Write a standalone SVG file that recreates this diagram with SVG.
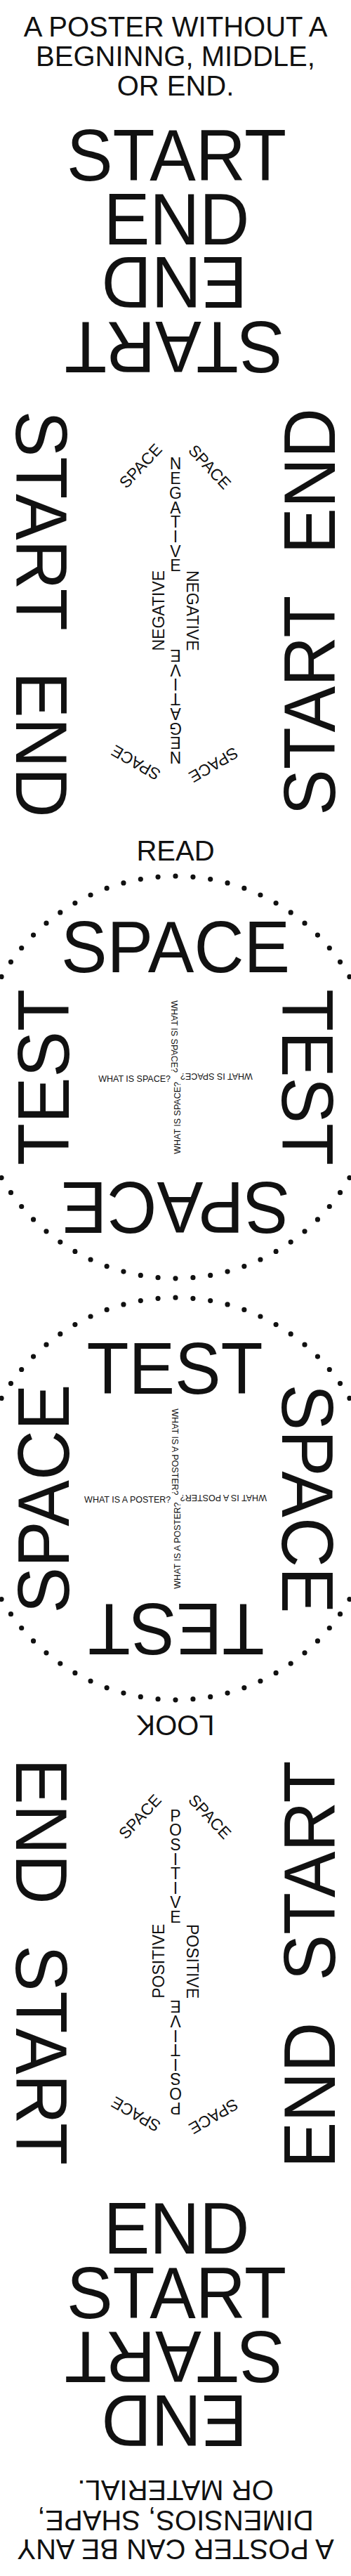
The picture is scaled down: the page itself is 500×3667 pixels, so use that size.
<svg xmlns="http://www.w3.org/2000/svg" width="500" height="3667" viewBox="0 0 500 3667">
<style>
text{font-family:"Liberation Sans",Arial,Helvetica,sans-serif;fill:#111;text-anchor:middle}
.hd{font-size:40px}
.big{font-size:104px}
.md{font-size:23px}
.sm{font-size:12.5px}
.e{text-anchor:end}
.dots{fill:none;stroke:#111;stroke-width:7.2;stroke-linecap:round;stroke-dasharray:0 1}
</style>
<rect width="500" height="3667" fill="#fff"/>
<g id="header">
<text class="hd" x="250" y="51.7">A POSTER WITHOUT A</text>
<text class="hd" x="250" y="93.6">BEGNINNG, MIDDLE,</text>
<text class="hd" x="250" y="136.1">OR END.</text>
</g>
<g id="stack-top" class="big">
<text class="big" transform="translate(251.5,256.7) scale(0.945,1)">START</text>
<text class="big" transform="translate(251.5,348.3) scale(0.945,1)">END</text>
<text class="big" transform="translate(248.5,366) rotate(180) scale(0.945,1)">END</text>
<text class="big" transform="translate(248.5,458.3) rotate(180) scale(0.945,1)">START</text>
</g>
<g id="columns-top">
<text class="big" transform="translate(23.3,741.3) rotate(90) scale(0.945,1)">START</text>
<text class="big" transform="translate(23.3,1060) rotate(90) scale(0.945,1)">END</text>
<text class="big" transform="translate(476.7,684.7) rotate(-90) scale(0.945,1)">END</text>
<text class="big" transform="translate(476.7,1004.2) rotate(-90) scale(0.945,1)">START</text>
</g>
<g id="negative-figure" class="md">
<text class="md" x="250" y="668.4">N</text>
<text class="md" x="250" y="689.1">E</text>
<text class="md" x="250" y="709.8">G</text>
<text class="md" x="250" y="730.5">A</text>
<text class="md" x="250" y="751.2">T</text>
<text class="md" x="250" y="771.9">I</text>
<text class="md" x="250" y="792.6">V</text>
<text class="md" x="250" y="813.3">E</text>
<text class="md" transform="translate(250,925) rotate(180)">E</text>
<text class="md" transform="translate(250,945.7) rotate(180)">V</text>
<text class="md" transform="translate(250,966.4) rotate(180)">I</text>
<text class="md" transform="translate(250,987.1) rotate(180)">T</text>
<text class="md" transform="translate(250,1007.8) rotate(180)">A</text>
<text class="md" transform="translate(250,1028.5) rotate(180)">G</text>
<text class="md" transform="translate(250,1049.2) rotate(180)">E</text>
<text class="md" transform="translate(250,1069.9) rotate(180)">N</text>
<text class="md" transform="translate(233.5,869.2) rotate(-90)">NEGATIVE</text>
<text class="md" transform="translate(266,869.2) rotate(90)">NEGATIVE</text>
<text class="md" transform="translate(206.1,668.7) rotate(-47)">SPACE</text>
<text class="md" transform="translate(292.9,670.2) rotate(47)">SPACE</text>
<text class="md" transform="translate(197.5,1078.8) rotate(210)">SPACE</text>
<text class="md" transform="translate(300.3,1081.8) rotate(150)">SPACE</text>
</g>
<g id="read">
<text class="hd" x="250" y="1225">READ</text>
</g>
<g id="circle-1">
<circle class="dots" cx="250" cy="1533.5" r="286.3" pathLength="72"/>
<text class="big" transform="translate(250,1384) scale(0.945,1)">SPACE</text>
<text class="big" transform="translate(250,1683.3) rotate(180) scale(0.945,1)">SPACE</text>
<text class="big" transform="translate(98.3,1533.5) rotate(-90) scale(0.945,1)">TEST</text>
<text class="big" transform="translate(401.7,1533.5) rotate(90) scale(0.945,1)">TEST</text>
<text class="sm e" x="243" y="1539.5">WHAT IS SPACE?</text>
<text class="sm e" transform="translate(257,1527.5) rotate(180)">WHAT IS SPACE?</text>
<text class="sm e" transform="translate(243.5,1527) rotate(90)">WHAT IS SPACE?</text>
<text class="sm e" transform="translate(256.5,1540) rotate(-90)">WHAT IS SPACE?</text>
</g>
<g id="circle-2">
<circle class="dots" cx="250" cy="2133.5" r="286.3" pathLength="72"/>
<text class="big" transform="translate(249,1984) scale(0.945,1)">TEST</text>
<text class="big" transform="translate(251,2283) rotate(180) scale(0.945,1)">TEST</text>
<text class="big" transform="translate(98.3,2133.5) rotate(-90) scale(0.945,1)">SPACE</text>
<text class="big" transform="translate(401.7,2133.5) rotate(90) scale(0.945,1)">SPACE</text>
<text class="sm e" x="243.3" y="2138.5">WHAT IS A POSTER?</text>
<text class="sm e" transform="translate(256.7,2127.5) rotate(180)">WHAT IS A POSTER?</text>
<text class="sm e" transform="translate(244.5,2128.5) rotate(90)">WHAT IS A POSTER?</text>
<text class="sm e" transform="translate(256.5,2138.5) rotate(-90)">WHAT IS A POSTER?</text>
</g>
<g id="look">
<text class="hd" transform="translate(250,2442) rotate(180)">LOOK</text>
</g>
<g id="columns-bottom">
<text class="big" transform="translate(23.3,2607) rotate(90) scale(0.945,1)">END</text>
<text class="big" transform="translate(23.3,2925.5) rotate(90) scale(0.945,1)">START</text>
<text class="big" transform="translate(476.7,2663) rotate(-90) scale(0.945,1)">START</text>
<text class="big" transform="translate(476.7,2982.5) rotate(-90) scale(0.945,1)">END</text>
</g>
<g id="positive-figure">
<text class="md" x="250" y="2592.7">P</text>
<text class="md" x="250" y="2613.3">O</text>
<text class="md" x="250" y="2633.9">S</text>
<text class="md" x="250" y="2654.5">I</text>
<text class="md" x="250" y="2675.1">T</text>
<text class="md" x="250" y="2695.7">I</text>
<text class="md" x="250" y="2716.3">V</text>
<text class="md" x="250" y="2736.9">E</text>
<text class="md" transform="translate(250,2848.3) rotate(180)">E</text>
<text class="md" transform="translate(250,2868.9) rotate(180)">V</text>
<text class="md" transform="translate(250,2889.5) rotate(180)">I</text>
<text class="md" transform="translate(250,2910.1) rotate(180)">T</text>
<text class="md" transform="translate(250,2930.7) rotate(180)">I</text>
<text class="md" transform="translate(250,2951.3) rotate(180)">S</text>
<text class="md" transform="translate(250,2971.9) rotate(180)">O</text>
<text class="md" transform="translate(250,2992.5) rotate(180)">P</text>
<text class="md" transform="translate(233.5,2791.7) rotate(-90)">POSITIVE</text>
<text class="md" transform="translate(266,2792) rotate(90)">POSITIVE</text>
<text class="md" transform="translate(205.3,2591.5) rotate(-47)">SPACE</text>
<text class="md" transform="translate(293.1,2591.5) rotate(47)">SPACE</text>
<text class="md" transform="translate(197.5,3002.8) rotate(210)">SPACE</text>
<text class="md" transform="translate(300.3,3005.8) rotate(150)">SPACE</text>
</g>
<g id="stack-bottom">
<text class="big" transform="translate(251.5,3208) scale(0.945,1)">END</text>
<text class="big" transform="translate(251.5,3300) scale(0.945,1)">START</text>
<text class="big" transform="translate(248.5,3318.7) rotate(180) scale(0.945,1)">START</text>
<text class="big" transform="translate(248.5,3410.3) rotate(180) scale(0.945,1)">END</text>
</g>
<g id="footer">
<text class="hd" transform="translate(250,3615.3) rotate(180)">A POSTER CAN BE ANY</text>
<text class="hd" transform="translate(250,3573.5) rotate(180)">DIMENSIOS, SHAPE,</text>
<text class="hd" transform="translate(250,3531) rotate(180)">OR MATERIAL.</text>
</g>
</svg>
